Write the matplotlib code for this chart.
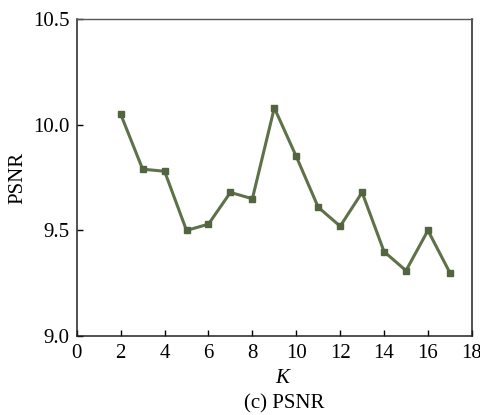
import matplotlib
matplotlib.use("Agg")
import matplotlib.pyplot as plt

K = [2, 3, 4, 5, 6, 7, 8, 9, 10, 11, 12, 13, 14, 15, 16, 17]
psnr = [10.05, 9.79, 9.78, 9.50, 9.53, 9.68, 9.65, 10.08, 9.85, 9.61, 9.52, 9.68, 9.40, 9.31, 9.50, 9.30]
xticks = [0, 2, 4, 6, 8, 10, 12, 14, 16, 18]
yticks = [9.0, 9.5, 10.0, 10.5]

plt.rcParams['font.family'] = ['Liberation Serif', 'DejaVu Serif']

fig = plt.figure(figsize=(4.8, 4.15), dpi=100)
ax = fig.add_axes([0.160, 0.190, 0.823, 0.764])
ax.plot(K, psnr, color='#5f7148', lw=2.2, marker='s', ms=5, mec='#536540', mfc='#536540')
ax.set_xlim(0, 18)
ax.set_ylim(9.0, 10.5)
ax.set_xticks(xticks)
ax.set_yticks(yticks)
ax.set_yticklabels([f"{v:.1f}" for v in yticks])
ax.tick_params(direction='in', length=4, width=1, labelsize=15, top=False, right=False)
ax.tick_params(axis='x', pad=6)
ax.tick_params(axis='y', pad=5)
for s in ['left', 'bottom', 'right']:
    ax.spines[s].set_color('#222222')
    ax.spines[s].set_linewidth(1.1)
ax.spines['top'].set_color('#555555')
ax.spines['top'].set_linewidth(1.0)
ax.set_ylabel('PSNR', fontsize=15)
ax.yaxis.set_label_coords(-0.125, 0.5)
ax.set_xlabel('K', fontsize=15, style='italic')
ax.xaxis.set_label_coords(0.52, -0.105)
fig.text(0.592, 0.027, '(c) PSNR', ha='center', va='center', fontsize=15)
fig.savefig('out.png', dpi=100)
